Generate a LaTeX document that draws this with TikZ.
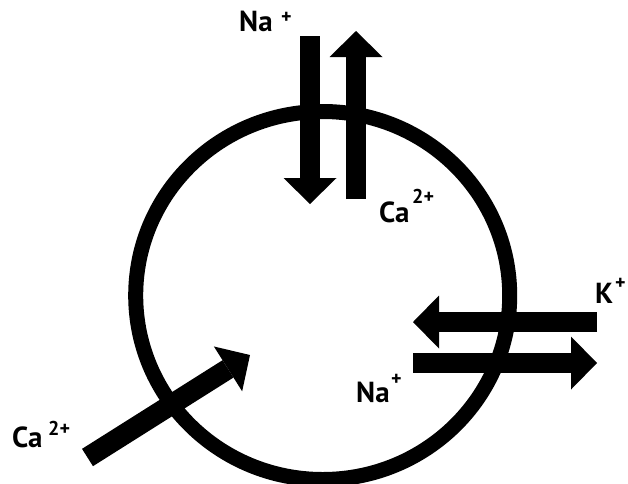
\documentclass[tikz,border=0pt]{standalone}
\usepackage{fontspec}
\setmainfont{PT Sans}
\usetikzlibrary{arrows.meta}
\newcommand\ionlabel[4]{\makebox[0pt][l]{\hspace{#2}\raisebox{#3}{\fontsize{20}{20}\selectfont\bfseries #4}}#1}
\begin{document}
\begin{tikzpicture}[x=1pt,y=-1pt,
  membrane/.style={line width=15pt},
  flux/.style={line width=20.5pt, -{Triangle[length=26pt,width=53pt,line width=0pt]}},
  ion/.style={anchor=base west, inner sep=0pt, font=\fontsize{29}{29}\selectfont\bfseries}]
\useasboundingbox (0,0) rectangle (628,483);
\coordinate (cell) at (322.7,295.5);
\draw[membrane] (cell) ellipse [x radius=187, y radius=184];
% exchanger at top
\coordinate (naInS) at (310,36);
\coordinate (naInE) at (310,204);
\coordinate (caOutS) at (356,199);
\coordinate (caOutE) at (356,31);
\draw[flux] (naInS) -- (naInE);
\draw[flux] (caOutS) -- (caOutE);
% pump at right
\coordinate (kInS) at (597,322);
\coordinate (kInE) at (413,322);
\coordinate (naOutS) at (413,363);
\coordinate (naOutE) at (597,363);
\draw[flux] (kInS) -- (kInE);
\draw[flux] (naOutS) -- (naOutE);
% calcium channel
\coordinate (caInS) at (87.5,457.5);
\coordinate (caInE) at (250,355);
\draw[flux] (caInS) -- (caInE);
% labels
\node[ion] (lNaTop) at (239,31) {\ionlabel{Na}{42pt}{8pt}{+}};
\node[ion] (lCaTop) at (379,222) {\ionlabel{Ca}{33pt}{19pt}{2+}};
\node[ion] (lK) at (595,303) {\ionlabel{K}{20pt}{14pt}{+}};
\node[ion] (lNaRight) at (356,402) {\ionlabel{Na}{35pt}{17pt}{+}};
\node[ion] (lCaLeft) at (12,447) {\ionlabel{Ca}{36pt}{12pt}{2+}};
\end{tikzpicture}
\end{document}
